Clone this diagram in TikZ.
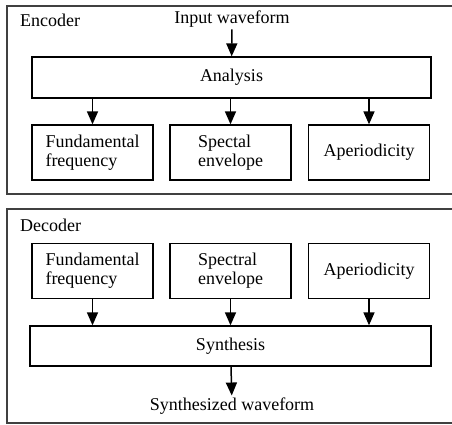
\documentclass[tikz,border=0pt]{standalone}
\usepackage{fontspec}
\setmainfont{Liberation Serif}
\usetikzlibrary{arrows.meta}

\begin{document}
\begin{tikzpicture}[x=1pt,y=-1pt,
    font=\fontsize{18}{19}\selectfont,
    block/.style={draw, line width=1.3pt, minimum width=121pt, minimum height=55pt, align=left, inner sep=2pt},
    wide/.style={draw, line width=1.3pt, minimum width=399pt, minimum height=41pt, inner sep=2pt},
    frame/.style={draw=black!75, line width=1.5pt},
    lbl/.style={inner sep=2pt},
    arr/.style={line width=1.5pt, -{Triangle[length=13pt,width=11pt]}}]
    \useasboundingbox (0,0) rectangle (452,425);
    \clip (0,0) rectangle (452,425);
    % encoder
    \draw[frame] (7,6) rectangle (470,194);
    \node[lbl, anchor=west] (enc) at (18,20) {Encoder};
    \node[lbl] (input) at (232,19) {Input waveform};
    \node[wide] (analysis) at (231.5,77.5) {Analysis};
    \node[block] (f0enc) at (92.5,152.5) {Fundamental\\frequency};
    \node[block] (spenc) at (230.5,152.5) {Spectal\\envelope};
    \node[block] (apenc) at (369,152.5) {Aperiodicity};
    \draw[arr] (input) -- (analysis);
    \draw[arr] (analysis.south -| f0enc) -- (f0enc);
    \draw[arr] (analysis.south -| spenc) -- (spenc);
    \draw[arr] (analysis.south -| apenc) -- (apenc);
    % decoder
    \draw[frame] (7,209) rectangle (470,423);
    \node[lbl, anchor=west] (dec) at (18,225) {Decoder};
    \node[block] (f0dec) at (92.5,271) {Fundamental\\frequency};
    \node[block] (spdec) at (230.5,271) {Spectral\\envelope};
    \node[block] (apdec) at (369,271) {Aperiodicity};
    \node[wide, minimum width=401pt, minimum height=40pt] (synthesis) at (230.5,346) {Synthesis};
    \node[lbl] (output) at (232,406) {Synthesized waveform};
    \draw[arr] (f0dec) -- (synthesis.north -| f0dec);
    \draw[arr] (spdec) -- (synthesis.north -| spdec);
    \draw[arr] (apdec) -- (synthesis.north -| apdec);
    \draw[arr] (synthesis) -- (output);
\end{tikzpicture}
\end{document}
